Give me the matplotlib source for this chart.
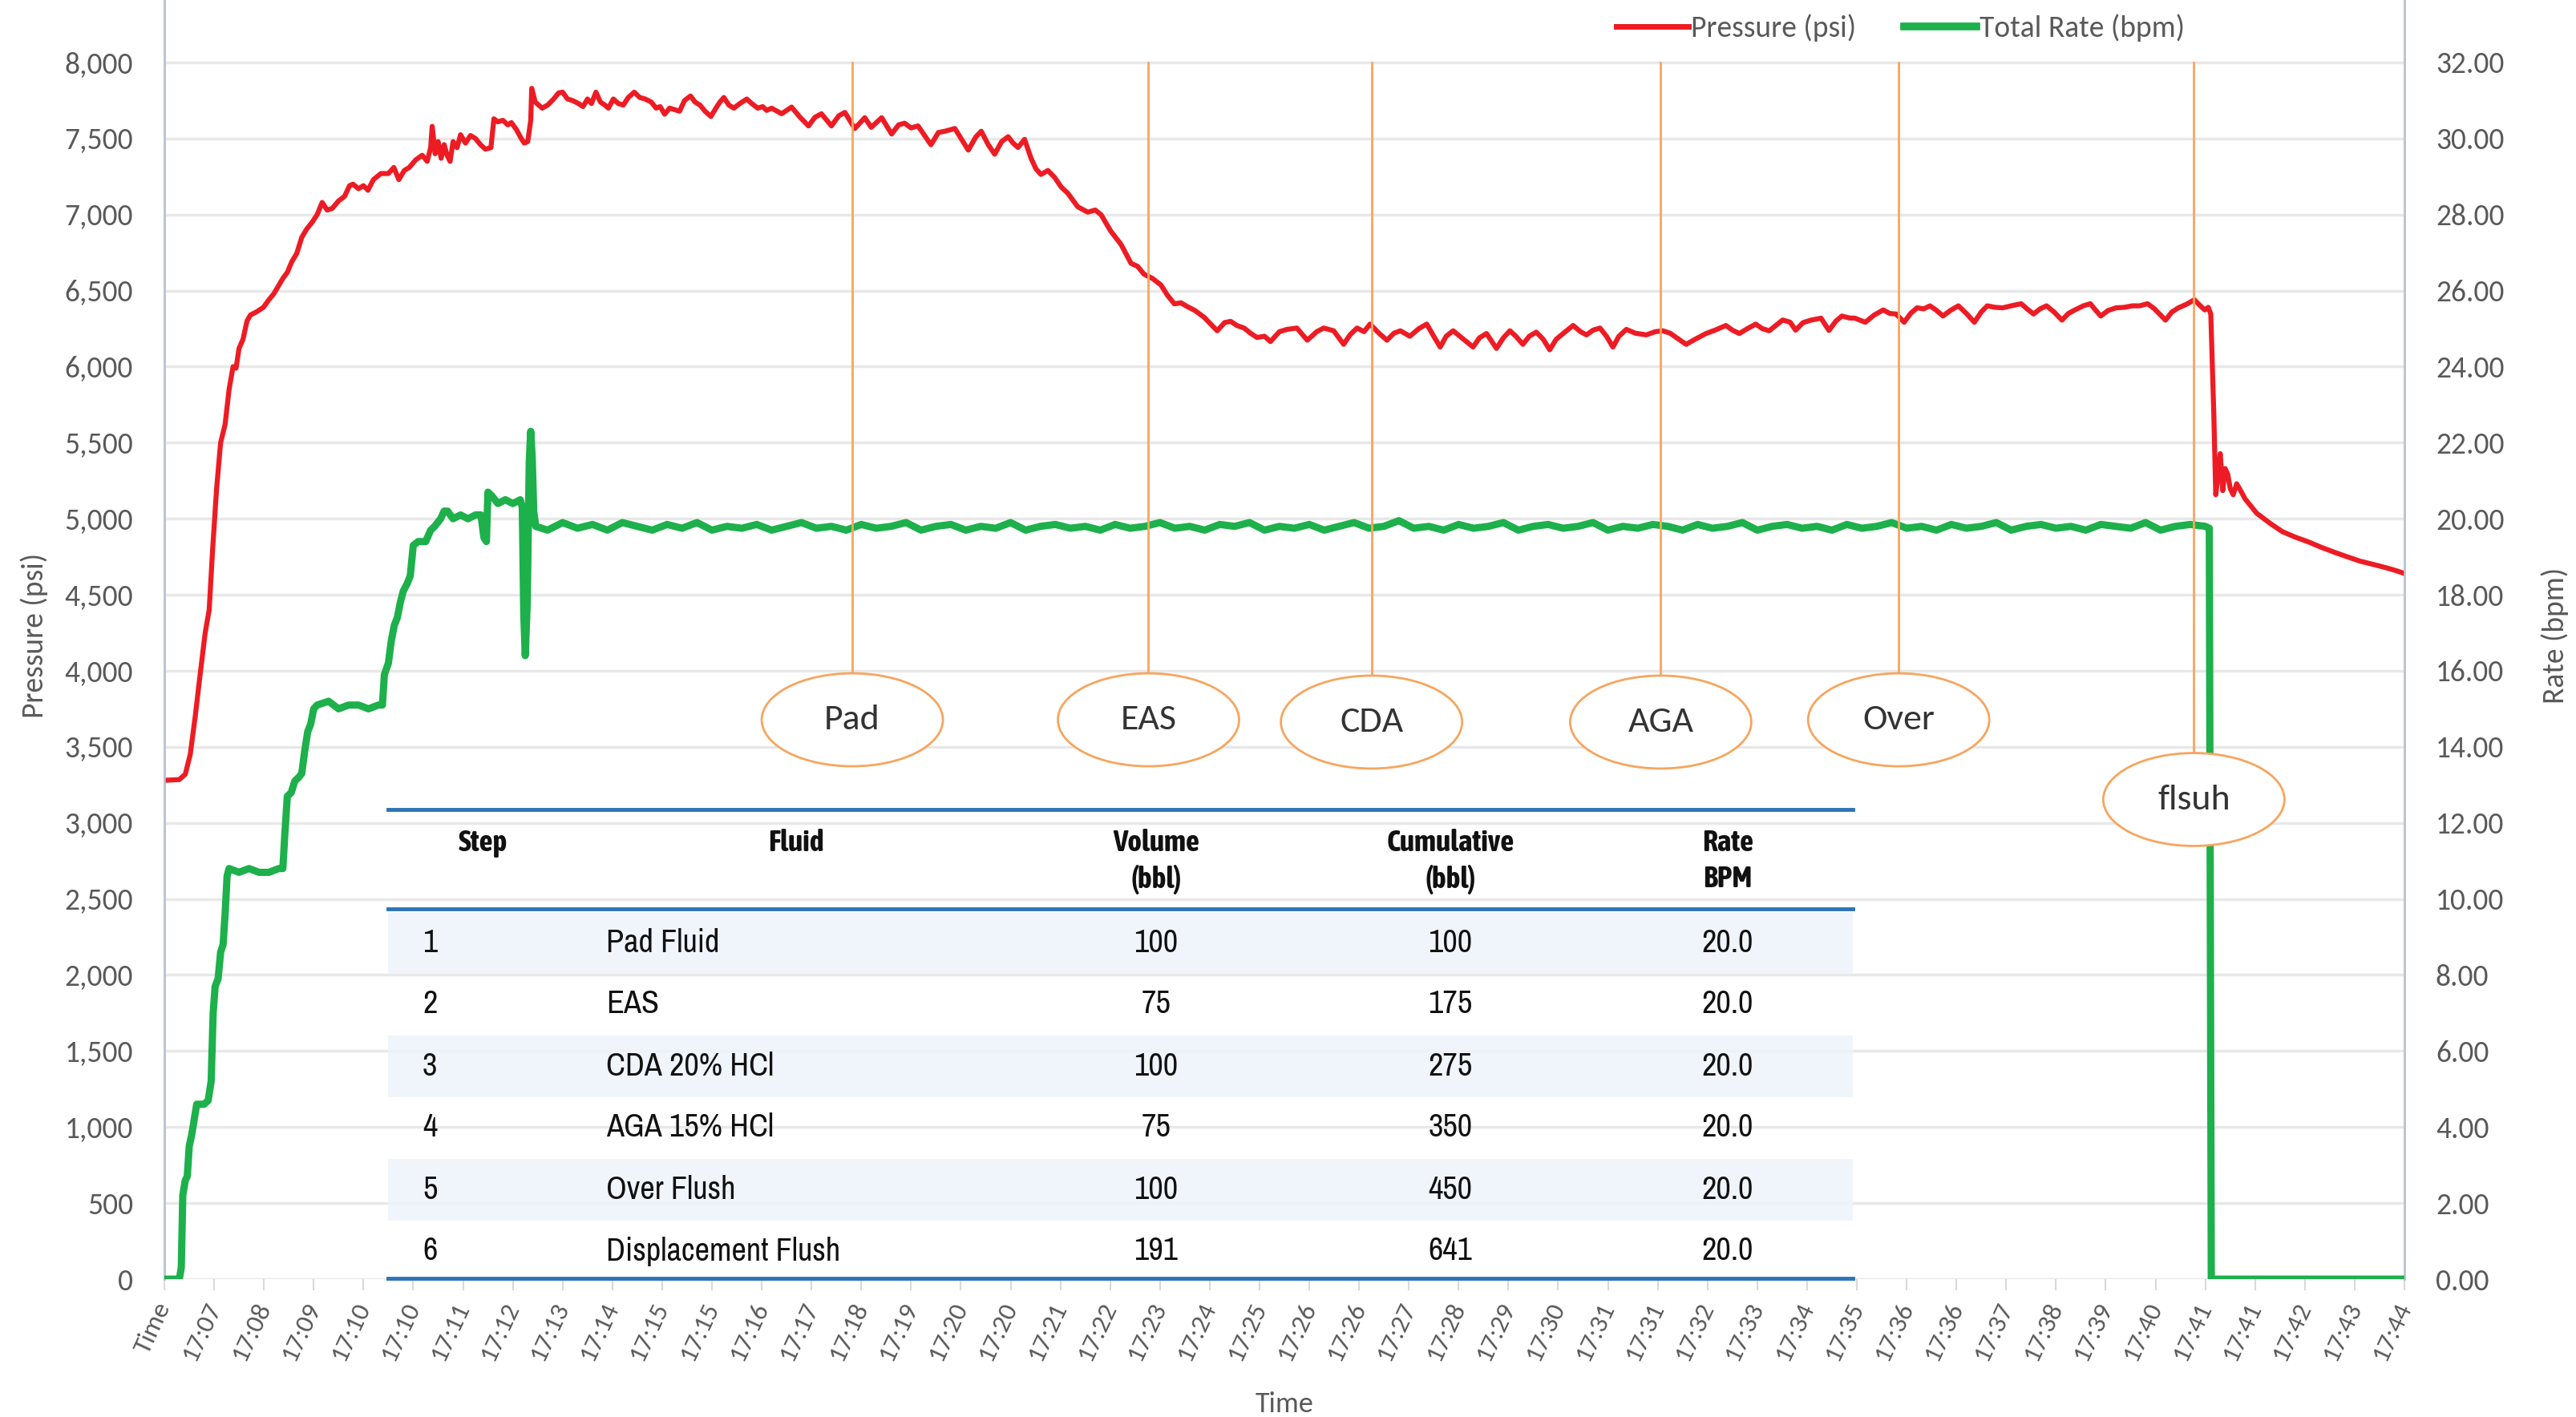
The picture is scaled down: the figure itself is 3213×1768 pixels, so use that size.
import matplotlib.pyplot as plt
import numpy as np
from matplotlib.patches import Ellipse, Rectangle
from matplotlib.lines import Line2D

# ---- data (x = position on the time axis, one unit per label) ----
time_labels = ["Time", "17:07", "17:08", "17:09", "17:10", "17:10", "17:11", "17:12",
               "17:13", "17:14", "17:15", "17:15", "17:16", "17:17", "17:18", "17:19",
               "17:20", "17:20", "17:21", "17:22", "17:23", "17:24", "17:25", "17:26",
               "17:26", "17:27", "17:28", "17:29", "17:30", "17:31", "17:31", "17:32",
               "17:33", "17:34", "17:35", "17:36", "17:36", "17:37", "17:38", "17:39",
               "17:40", "17:41", "17:41", "17:42", "17:43", "17:44"]

press_x = [0.00, 0.30, 0.42, 0.52, 0.62, 0.72, 0.82, 0.90, 0.97, 1.05, 1.13, 1.22, 1.30, 1.38,
           1.44, 1.50, 1.58, 1.66, 1.73, 1.85, 1.99, 2.10, 2.20, 2.29, 2.38, 2.47, 2.56, 2.66,
           2.76, 2.86, 2.97, 3.07, 3.17, 3.27, 3.37, 3.50, 3.62, 3.72, 3.79, 3.90, 4.00, 4.09,
           4.20, 4.35, 4.50, 4.61, 4.71, 4.82, 4.92, 5.05, 5.18, 5.28, 5.35, 5.38, 5.44, 5.50,
           5.56, 5.62, 5.68, 5.74, 5.80, 5.88, 5.95, 6.05, 6.15, 6.25, 6.35, 6.45, 6.56, 6.62,
           6.70, 6.80, 6.90, 6.97, 7.07, 7.17, 7.23, 7.30, 7.36, 7.38, 7.45, 7.52, 7.59, 7.70,
           7.82, 7.92, 8.00, 8.10, 8.20, 8.32, 8.41, 8.50, 8.58, 8.67, 8.76, 8.85, 8.92, 9.02,
           9.12, 9.22, 9.32, 9.44, 9.55, 9.66, 9.78, 9.88, 9.96, 10.05, 10.15, 10.25, 10.35,
           10.45, 10.57, 10.66, 10.76, 10.86, 10.98, 11.08, 11.16, 11.24, 11.34, 11.44, 11.56,
           11.70, 11.80, 11.92, 12.02, 12.10, 12.20, 12.40, 12.60, 12.77, 12.94, 13.07, 13.20,
           13.40, 13.55, 13.67, 13.87, 14.07, 14.20, 14.41, 14.61, 14.75, 14.87, 15.00, 15.14,
           15.40, 15.55, 15.68, 15.88, 16.15, 16.30, 16.41, 16.55, 16.68, 16.82, 16.95, 17.05,
           17.15, 17.28, 17.41, 17.51, 17.61, 17.75, 17.88, 18.02, 18.15, 18.35, 18.55, 18.70,
           18.82, 19.01, 19.22, 19.42, 19.55, 19.68, 19.85, 20.02, 20.15, 20.29, 20.42, 20.55,
           20.70, 20.89, 21.02, 21.15, 21.30, 21.42, 21.55, 21.69, 21.82, 21.95, 22.10, 22.22,
           22.40, 22.55, 22.75, 22.96, 23.15, 23.29, 23.49, 23.69, 23.82, 23.96, 24.10, 24.22,
           24.40, 24.56, 24.70, 24.83, 25.02, 25.20, 25.36, 25.50, 25.63, 25.75, 25.89, 26.10,
           26.29, 26.42, 26.56, 26.76, 26.90, 27.03, 27.15, 27.29, 27.42, 27.56, 27.70, 27.83,
           27.96, 28.10, 28.30, 28.45, 28.57, 28.70, 28.84, 28.97, 29.10, 29.22, 29.37, 29.55,
           29.77, 29.95, 30.10, 30.25, 30.37, 30.57, 30.75, 30.97, 31.15, 31.37, 31.50, 31.64,
           31.80, 31.97, 32.10, 32.24, 32.35, 32.51, 32.66, 32.77, 32.92, 33.08, 33.28, 33.44,
           33.58, 33.70, 33.85, 33.96, 34.17, 34.35, 34.53, 34.66, 34.79, 34.95, 35.08, 35.21,
           35.34, 35.47, 35.60, 35.73, 35.88, 36.04, 36.20, 36.36, 36.50, 36.62, 36.78, 36.93,
           37.10, 37.30, 37.42, 37.55, 37.68, 37.81, 37.96, 38.12, 38.25, 38.38, 38.55, 38.69,
           38.80, 38.90, 39.05, 39.21, 39.37, 39.53, 39.68, 39.84, 39.98, 40.10, 40.20, 40.33,
           40.46, 40.62, 40.78, 40.90, 40.99, 41.06, 41.11, 41.17, 41.21, 41.26, 41.30, 41.35,
           41.40, 41.45, 41.50, 41.56, 41.63, 41.71, 41.80, 41.90, 42.03, 42.30, 42.55, 42.80,
           43.07, 43.33, 43.59, 43.85, 44.11, 44.37, 44.63, 44.82, 45.00]
press_psi = [3280, 3285, 3320, 3450, 3700, 3980, 4250, 4400, 4800, 5200, 5500, 5620, 5850, 6000,
             5990, 6120, 6180, 6300, 6340, 6360, 6390, 6440, 6480, 6530, 6580, 6620, 6690, 6745,
             6850, 6905, 6950, 7000, 7080, 7030, 7040, 7090, 7120, 7190, 7200, 7170, 7190, 7160,
             7230, 7270, 7270, 7310, 7230, 7290, 7310, 7360, 7390, 7350, 7440, 7580, 7400, 7480,
             7370, 7460, 7390, 7350, 7480, 7440, 7525, 7470, 7520, 7500, 7460, 7430, 7440, 7630,
             7610, 7620, 7590, 7605, 7560, 7500, 7470, 7480, 7620, 7830, 7740, 7720, 7700, 7720,
             7760, 7800, 7805, 7760, 7750, 7730, 7710, 7760, 7730, 7805, 7740, 7720, 7700, 7760,
             7730, 7720, 7770, 7805, 7770, 7760, 7740, 7700, 7710, 7660, 7700, 7690, 7680,
             7750, 7780, 7740, 7720, 7680, 7645, 7700, 7740, 7770, 7720, 7700, 7730,
             7760, 7730, 7700, 7710, 7685, 7700, 7663, 7707, 7640, 7583, 7640, 7663,
             7583, 7650, 7672, 7566, 7637, 7574, 7637, 7530, 7590, 7601, 7570, 7583,
             7459, 7540, 7548, 7566, 7424, 7510, 7548, 7460, 7397, 7480, 7512, 7470,
             7441, 7495, 7371, 7300, 7264, 7290, 7246, 7180, 7140, 7051, 7016, 7030,
             6998, 6892, 6803, 6679, 6660, 6608, 6580, 6537, 6470, 6413, 6420, 6395,
             6370, 6324, 6280, 6236, 6290, 6298, 6270, 6254, 6220, 6192, 6200, 6165,
             6230, 6245, 6254, 6174, 6230, 6254, 6236, 6147, 6210, 6254, 6230, 6280,
             6220, 6174, 6220, 6236, 6200, 6250, 6280, 6200, 6129, 6200, 6236, 6180,
             6129, 6190, 6218, 6120, 6190, 6236, 6200, 6147, 6200, 6227, 6180, 6111,
             6180, 6218, 6271, 6230, 6209, 6240, 6254, 6200, 6129, 6200, 6245, 6220,
             6209, 6230, 6236, 6220, 6192, 6147, 6180, 6218, 6240, 6271, 6240, 6218,
             6250, 6280, 6250, 6236, 6265, 6307, 6292, 6240, 6290, 6306, 6319, 6238,
             6300, 6333, 6320, 6319, 6292, 6340, 6373, 6350, 6346, 6292, 6350, 6387,
             6380, 6400, 6370, 6333, 6370, 6400, 6350, 6292, 6360, 6400, 6390, 6387,
             6400, 6414, 6380, 6346, 6380, 6400, 6360, 6306, 6350, 6373, 6400, 6414,
             6370, 6333, 6370, 6387, 6390, 6400, 6400, 6414, 6380, 6340, 6306, 6360,
             6387, 6410, 6440, 6400, 6373, 6390, 6346, 5698, 5158, 5300, 5428, 5185,
             5330, 5293, 5200, 5158, 5230, 5185, 5130, 5090, 5037, 4970, 4915, 4880,
             4848, 4812, 4780, 4750, 4721, 4700, 4678, 4660, 4640]

rate_x = [0.00, 0.30, 0.34, 0.37, 0.42, 0.46, 0.50, 0.55, 0.60, 0.65, 0.72, 0.80, 0.88, 0.94,
          0.98, 1.02, 1.08, 1.13, 1.18, 1.22, 1.26, 1.30, 1.50, 1.70, 1.90, 2.10, 2.30, 2.38,
          2.42, 2.47, 2.55, 2.62, 2.70, 2.76, 2.82, 2.88, 2.94, 3.00, 3.07, 3.30, 3.50, 3.70,
          3.90, 4.10, 4.30, 4.38, 4.42, 4.50, 4.56, 4.62, 4.68, 4.74, 4.80, 4.88, 4.94, 5.00,
          5.10, 5.25, 5.35, 5.43, 5.55, 5.62, 5.69, 5.80, 5.95, 6.10, 6.25, 6.36, 6.42, 6.47,
          6.50, 6.58, 6.70, 6.85, 7.00, 7.15, 7.19, 7.22, 7.25, 7.29, 7.33, 7.36, 7.39, 7.42,
          7.46, 7.7, 8.0, 8.3, 8.6, 8.9, 9.2, 9.5, 9.8, 10.1, 10.4, 10.7, 11.0, 11.3, 11.6,
          11.9, 12.2, 12.5, 12.8, 13.1, 13.4, 13.7, 14.0, 14.3, 14.6, 14.9, 15.2, 15.5, 15.8,
          16.1, 16.4, 16.7, 17.0, 17.3, 17.6, 17.9, 18.2, 18.5, 18.8, 19.1, 19.4, 19.7, 20.0,
          20.3, 20.6, 20.9, 21.2, 21.5, 21.8, 22.1, 22.4, 22.7, 23.0, 23.3, 23.6, 23.9, 24.2,
          24.5, 24.8, 25.1, 25.4, 25.7, 26.0, 26.3, 26.6, 26.9, 27.2, 27.5, 27.8, 28.1, 28.4,
          28.7, 29.0, 29.3, 29.6, 29.9, 30.2, 30.5, 30.8, 31.1, 31.4, 31.7, 32.0, 32.3, 32.6,
          32.9, 33.2, 33.5, 33.8, 34.1, 34.4, 34.7, 35.0, 35.3, 35.6, 35.9, 36.2, 36.5, 36.8,
          37.1, 37.4, 37.7, 38.0, 38.3, 38.6, 38.9, 39.2, 39.5, 39.8, 40.1, 40.4, 40.7, 41.0,
          41.08, 41.12, 45.0]
rate_bpm = [0.0, 0.0, 0.3, 2.2, 2.6, 2.7, 3.5, 3.8, 4.2, 4.6, 4.6, 4.6, 4.7, 5.2,
            7.0, 7.7, 7.9, 8.6, 8.8, 9.6, 10.6, 10.8, 10.7, 10.8, 10.7, 10.7, 10.8, 10.8,
            11.7, 12.7, 12.8, 13.1, 13.2, 13.3, 13.9, 14.4, 14.6, 15.0, 15.1, 15.2, 15.0, 15.1,
            15.1, 15.0, 15.1, 15.1, 15.9, 16.2, 16.8, 17.2, 17.4, 17.8, 18.1, 18.3, 18.5, 19.3,
            19.4, 19.4, 19.7, 19.8, 20.0, 20.2, 20.2, 20.0, 20.1, 20.0, 20.1, 20.1, 19.5, 19.4,
            20.7, 20.6, 20.4, 20.5, 20.4, 20.5, 20.3, 17.5, 16.4, 17.8, 21.5, 22.3, 21.6, 20.2,
            19.8, 19.7, 19.9, 19.75, 19.85, 19.7, 19.9, 19.8, 19.7, 19.85, 19.75, 19.9, 19.7, 19.8, 19.75,
            19.85, 19.7, 19.8, 19.9, 19.75, 19.8, 19.7, 19.85, 19.75, 19.8, 19.9, 19.7, 19.8, 19.85,
            19.7, 19.8, 19.75, 19.9, 19.7, 19.8, 19.85, 19.75, 19.8, 19.7, 19.85, 19.75, 19.8, 19.9,
            19.75, 19.8, 19.7, 19.85, 19.8, 19.9, 19.7, 19.8, 19.75, 19.85, 19.7, 19.8, 19.9, 19.75,
            19.8, 19.95, 19.75, 19.8, 19.7, 19.85, 19.75, 19.8, 19.9, 19.7, 19.8, 19.85, 19.75, 19.8,
            19.9, 19.7, 19.8, 19.75, 19.85, 19.8, 19.7, 19.85, 19.75, 19.8, 19.9, 19.7, 19.8, 19.85,
            19.75, 19.8, 19.7, 19.85, 19.75, 19.8, 19.9, 19.75, 19.8, 19.7, 19.85, 19.75, 19.8, 19.9,
            19.7, 19.8, 19.85, 19.75, 19.8, 19.7, 19.85, 19.8, 19.75, 19.9, 19.7, 19.8, 19.85, 19.8,
            19.75, 0.0, 0.0]

stage_names = ["Pad", "EAS", "CDA", "AGA", "Over", "flsuh"]
stage_x = [13.82, 19.77, 24.25, 30.06, 34.84, 40.77]

steps = ["1", "2", "3", "4", "5", "6"]
fluids = ["Pad Fluid", "EAS", "CDA 20% HCl", "AGA 15% HCl", "Over Flush", "Displacement Flush"]
volumes = ["100", "75", "100", "75", "100", "191"]
cumulative = ["100", "175", "275", "350", "450", "641"]
rates = ["20.0", "20.0", "20.0", "20.0", "20.0", "20.0"]

# ---- figure ----
plt.rcParams['font.family'] = ['Carlito', 'Lato', 'DejaVu Sans']
W, H = 3213, 1768
fig = plt.figure(figsize=(W / 100, H / 100), dpi=100)


def fx(px):
    return px / W


def fy(py):
    return 1 - py / H


ax_l, ax_r, ax_b = 205, 2999, 1596
ax = fig.add_axes([fx(ax_l), fy(ax_b), fx(ax_r - ax_l), ax_b / H])
ax2 = ax.twinx()

grey = '#595959'
spine_c = '#B9C3D3'

ax.set_xlim(0, 45)
ax.set_ylim(0, 8411)
ax2.set_ylim(0, 8411 / 250)

ax.set_yticks(np.arange(0, 8001, 500))
ax.set_yticklabels([f"{v:,}" for v in range(0, 8001, 500)])
ax2.set_yticks(np.arange(0, 33, 2))
ax2.set_yticklabels([f"{v:.2f}" for v in range(0, 33, 2)])

ax.set_xticks(range(len(time_labels)))
ax.set_xticklabels(time_labels, rotation=65, ha='right', va='center', rotation_mode='anchor')

ax.grid(axis='y', color='#E8E8E8', lw=2.5)
ax.set_axisbelow(True)
for a in (ax, ax2):
    for s in ('top', 'bottom'):
        a.spines[s].set_visible(False)
    a.spines['left'].set_color(spine_c)
    a.spines['right'].set_color(spine_c)
    a.spines['left'].set_linewidth(1.8)
    a.spines['right'].set_linewidth(1.8)
ax.tick_params(axis='y', length=0, pad=28, labelsize=27, labelcolor=grey)
ax2.tick_params(axis='y', length=0, pad=28, labelsize=27, labelcolor=grey)
ax.tick_params(axis='x', length=10, width=1.5, color='#D9D9D9', pad=12, labelsize=24,
               labelcolor=grey)

ax.set_ylabel("Pressure (psi)", fontsize=27, color=grey)
ax.yaxis.set_label_coords(-0.052, 0.503)
ax2.set_ylabel("Rate (bpm)", fontsize=27, color=grey, rotation=90)
ax2.yaxis.set_label_coords(1.061, 0.503)
ax.set_xlabel("Time", fontsize=26, color=grey)
ax.xaxis.set_label_coords(0.5, -0.088)

# ---- series ----
ax.plot(press_x, press_psi, color='#ED1C24', lw=4.5, zorder=3)
ax2.plot(rate_x, rate_bpm, color='#1DB04B', lw=6.5, zorder=3)

# ---- stage markers ----
ell_w, ell_h = 3.64, 611
ell_y = [3678, 3678, 3663, 3663, 3678, 3154]
orange = '#F7A55E'
for name, x, y in zip(stage_names, stage_x, ell_y):
    ax2.plot([x, x], [y + ell_h / 2, 8000], color=orange, lw=2, transform=ax.transData, zorder=4)
    ax2.add_patch(Ellipse((x, y), ell_w, ell_h, transform=ax.transData, facecolor='white',
                          edgecolor=orange, lw=2, zorder=5))
    ax2.text(x, y, name, transform=ax.transData, ha='center', va='center', fontsize=33,
             color='#333333', zorder=6)

# ---- legend ----
handles = [Line2D([], [], color='#ED1C24', lw=5), Line2D([], [], color='#1DB04B', lw=7)]
ax.legend(handles, ["Pressure (psi)", "Total Rate (bpm)"], loc='center',
          bbox_to_anchor=(0.775, 0.978), ncol=2, frameon=False, fontsize=27,
          labelcolor=grey, handlelength=2.4, handletextpad=0.1, columnspacing=1.6)

# ---- table overlay ----
tfont = ['Liberation Sans Narrow', 'Archivo Narrow', 'DejaVu Sans']
hfont = ['Liberation Sans Narrow', 'Asap Condensed', 'Archivo Narrow', 'DejaVu Sans']
t_left, t_right = 484, 2311
blue = '#2E74B5'
row_y = [1176, 1253, 1330, 1407, 1484, 1561]
row_h = 77
for i, yc in enumerate(row_y):
    if i % 2 == 0:
        fig.add_artist(Rectangle((fx(t_left), fy(yc + row_h / 2)), fx(t_right - t_left),
                                 row_h / H, transform=fig.transFigure, facecolor='#EDF4FB',
                                 alpha=0.85, edgecolor='none', zorder=2))
for yl in (1010, 1134, 1595):
    fig.add_artist(Line2D([fx(t_left), fx(t_right)], [fy(yl), fy(yl)],
                          transform=fig.transFigure, color=blue, lw=3.5, zorder=3))

col_x = {'step': 527, 'fluid': 756, 'vol': 1442, 'cum': 1809, 'rate': 2155}
headers = [(602, "Step", None), (993, "Fluid", None), (col_x['vol'], "Volume", "(bbl)"),
           (col_x['cum'], "Cumulative", "(bbl)"), (col_x['rate'], "Rate", "BPM")]
for x, l1, l2 in headers:
    fig.text(fx(x), fy(1052), l1, ha='center', va='center', fontsize=27, fontweight='bold',
             family=hfont, color='#111111', zorder=4)
    if l2:
        fig.text(fx(x), fy(1097), l2, ha='center', va='center', fontsize=27,
                 fontweight='bold', family=hfont, color='#111111', zorder=4)

for i, yc in enumerate(row_y):
    kw = dict(va='center', fontsize=29, family=tfont, color='#111111', zorder=4)
    fig.text(fx(col_x['step']), fy(yc), steps[i], ha='left', **kw)
    fig.text(fx(col_x['fluid']), fy(yc), fluids[i], ha='left', **kw)
    fig.text(fx(col_x['vol']), fy(yc), volumes[i], ha='center', **kw)
    fig.text(fx(col_x['cum']), fy(yc), cumulative[i], ha='center', **kw)
    fig.text(fx(col_x['rate']), fy(yc), rates[i], ha='center', **kw)

fig.savefig("out.png", dpi=100, facecolor='white')
